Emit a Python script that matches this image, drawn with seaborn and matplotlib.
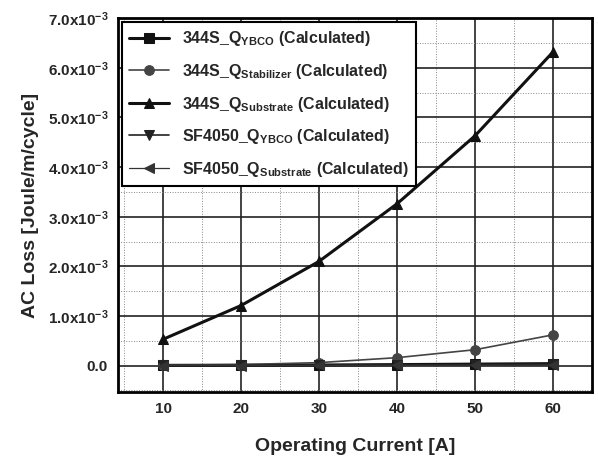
import numpy as np
import pandas as pd
import matplotlib
matplotlib.use("Agg")
import matplotlib.pyplot as plt
import seaborn as sns
from matplotlib.ticker import MultipleLocator, FuncFormatter

current = [10, 20, 30, 40, 50, 60]
q_344s_ybco = [0.005e-3, 0.008e-3, 0.012e-3, 0.02e-3, 0.03e-3, 0.04e-3]
q_344s_stab = [0.01e-3, 0.02e-3, 0.06e-3, 0.16e-3, 0.32e-3, 0.62e-3]
q_344s_sub = [0.53e-3, 1.21e-3, 2.1e-3, 3.26e-3, 4.63e-3, 6.32e-3]
q_sf_ybco = [0.004e-3, 0.007e-3, 0.01e-3, 0.015e-3, 0.022e-3, 0.03e-3]
q_sf_sub = [0.001e-3, 0.002e-3, 0.003e-3, 0.005e-3, 0.007e-3, 0.01e-3]

labels = [r'344S_Q$_{\mathbf{YBCO}}$ (Calculated)',
          r'344S_Q$_{\mathbf{Stabilizer}}$ (Calculated)',
          r'344S_Q$_{\mathbf{Substrate}}$ (Calculated)',
          r'SF4050_Q$_{\mathbf{YBCO}}$ (Calculated)',
          r'SF4050_Q$_{\mathbf{Substrate}}$ (Calculated)']
markers = ['s', 'o', '^', 'v', '<']
widths = [2.2, 1.2, 2.2, 1.2, 0.9]
colors = ['#111111', '#444444', '#111111', '#222222', '#333333']

series = [q_344s_ybco, q_344s_stab, q_344s_sub, q_sf_ybco, q_sf_sub]
df = pd.DataFrame({
    'current': current * len(series),
    'loss': np.concatenate(series),
    'series': np.repeat(labels, len(current)),
})

sns.set_style("white")
plt.rcParams['font.family'] = ['Liberation Sans', 'DejaVu Sans']
plt.rcParams['font.weight'] = 'bold'
plt.rcParams['mathtext.fontset'] = 'custom'
plt.rcParams['mathtext.bf'] = 'Liberation Sans:bold'
plt.rcParams['mathtext.default'] = 'bf'

fig = plt.figure(figsize=(5.98, 4.66), dpi=100)
ax = fig.add_axes([0.197, 0.159, 0.793, 0.802])

for lab, m, lw, c in zip(labels, markers, widths, colors):
    sub = df[df['series'] == lab]
    sns.lineplot(data=sub, x='current', y='loss', ax=ax, label=lab, marker=m,
                 markersize=7, linewidth=lw, color=c, markeredgecolor=c)

ax.set_xlim(4.2, 65)
ax.set_ylim(-0.53e-3, 7.0e-3)
ax.xaxis.set_major_locator(MultipleLocator(10))
ax.xaxis.set_minor_locator(MultipleLocator(5))
ax.yaxis.set_major_locator(MultipleLocator(1e-3))
ax.yaxis.set_minor_locator(MultipleLocator(0.5e-3))


def yfmt(v, pos):
    if abs(v) < 1e-9:
        return '0.0'
    return r'%.1fx10$^{\mathbf{-3}}$' % (v * 1e3)


ax.yaxis.set_major_formatter(FuncFormatter(yfmt))
ax.grid(which='major', color='#222222', linewidth=1.2)
ax.grid(which='minor', color='#888888', linewidth=0.7, linestyle=':')
ax.tick_params(which='major', direction='inout', length=7, width=1.5, labelsize=11)
ax.tick_params(which='minor', direction='in', length=4, width=1)
for s in ax.spines.values():
    s.set_linewidth(2)
    s.set_color('black')

ax.set_xlabel('Operating Current [A]', fontsize=14, fontweight='bold', labelpad=16)
ax.set_ylabel('AC Loss [Joule/m/cycle]', fontsize=14, fontweight='bold', labelpad=6)

leg = ax.legend(loc='upper left', fontsize=11.5, frameon=True, fancybox=False,
                edgecolor='black', framealpha=1, handlelength=2.5,
                borderaxespad=0.25, labelspacing=0.85, borderpad=0.45)
leg.get_frame().set_linewidth(1.5)

fig.savefig('out.png', dpi=100)
